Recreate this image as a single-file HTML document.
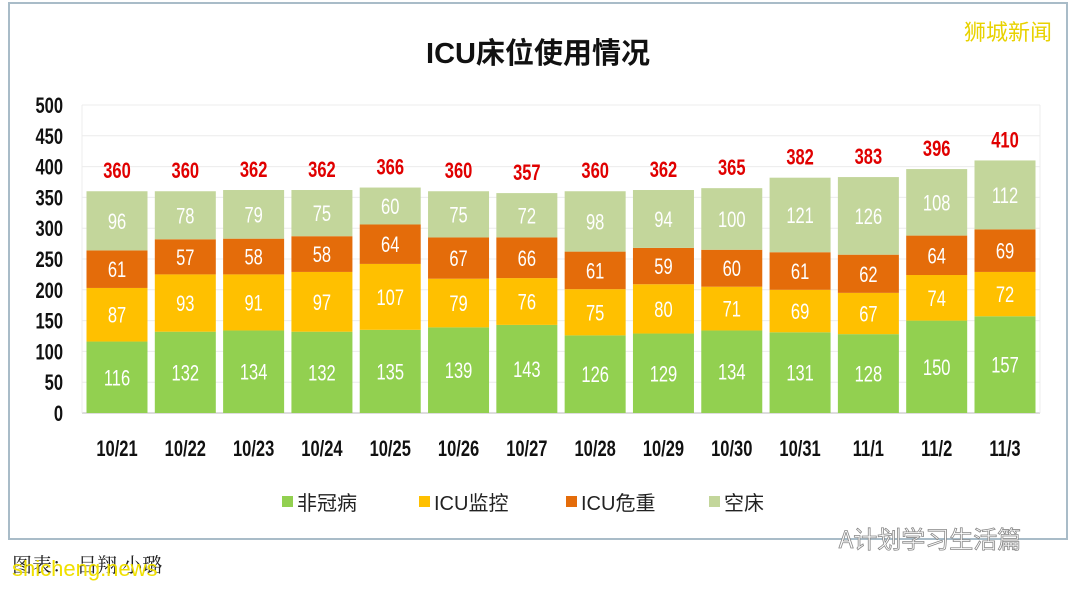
<!DOCTYPE html>
<html><head><meta charset="utf-8"><style>
body{margin:0;width:1076px;height:584px;background:#fff;overflow:hidden;font-family:"Liberation Sans","Noto Sans CJK SC",sans-serif}
svg text{font-family:"Liberation Sans","Noto Sans CJK SC",sans-serif}
</style></head><body>
<svg id="c" width="1076" height="584">
<rect x="9" y="3" width="1058" height="536" fill="#fff" stroke="#a9bcc8" stroke-width="2"/>
<text x="538" y="63" text-anchor="middle" font-size="29" font-weight="bold" fill="#111">ICU床位使用情况</text>
<text x="1008" y="40" text-anchor="middle" font-size="22" fill="#e8d200" style="font-family:'Noto Sans CJK SC',sans-serif">狮城新闻</text>
<g id="grid"></g><g id="bars"></g><g id="legend"></g>
<text x="930" y="548" text-anchor="middle" font-size="24" fill="#fff" stroke="#888" stroke-width="0.8" style="font-family:'Noto Sans CJK SC',sans-serif">A计划学习生活篇</text>
<text x="12" y="572" font-size="20" fill="#222" style="font-family:'Noto Serif CJK SC',serif">图表： 吕翔 小璐</text>
<text x="12" y="576" font-size="22" fill="#f0e000">shicheng.news</text>
</svg>
<script>
const categories=["10/21","10/22","10/23","10/24","10/25","10/26","10/27","10/28","10/29","10/30","10/31","11/1","11/2","11/3"];
const nonCovid=[116,132,134,132,135,139,143,126,129,134,131,128,150,157];
const icuMonitor=[87,93,91,97,107,79,76,75,80,71,69,67,74,72];
const icuCritical=[61,57,58,58,64,67,66,61,59,60,61,62,64,69];
const emptyBeds=[96,78,79,75,60,75,72,98,94,100,121,126,108,112];
const yTicks=[0,50,100,150,200,250,300,350,400,450,500];
const seriesNames=["非冠病","ICU监控","ICU危重","空床"];
const colors=["#92d050","#ffc000","#e46c0a","#c3d69b"];
const NS="http://www.w3.org/2000/svg";
const y0=413,y1=105,xL=82,xR=1040;
function y(v){return y0-(y0-y1)*v/500;}
function xc(i){return 117+i*(1005-117)/13;}
function mk(tag,attrs,parent,txt){const e=document.createElementNS(NS,tag);for(const k in attrs)e.setAttribute(k,attrs[k]);if(txt!==undefined)e.textContent=txt;parent.appendChild(e);return e;}
function nt(x,yy,anchor,size,weight,fill,parent,txt){
  return mk('text',{x:0,y:0,transform:`translate(${x},${yy}) scale(0.75,1)`,'text-anchor':anchor,'font-size':size,'font-weight':weight,fill:fill},parent,txt);
}
const grid=document.getElementById('grid'),bars=document.getElementById('bars'),leg=document.getElementById('legend');
yTicks.forEach(t=>{
  const l=mk('line',{x1:xL,x2:xR,y1:y(t),y2:y(t),stroke:t===0?'#bbb':'#ececec'},grid);
  
  
  const tx=nt(63,y(t)+8,'end',22,'bold','#111',grid,t);
  
  
});
mk('line',{x1:xL,x2:xL,y1:y1,y2:y0,stroke:'#ececec'},grid);
mk('line',{x1:xR,x2:xR,y1:y1,y2:y0,stroke:'#ececec'},grid);
const series=[nonCovid,icuMonitor,icuCritical,emptyBeds];
const bw=61;
categories.forEach((c,i)=>{
  let cum=0;
  series.forEach((s,k)=>{
    const v=s[i];
    const r=mk('rect',{x:xc(i)-bw/2,y:y(cum+v),width:bw,height:y(cum)-y(cum+v),fill:colors[k]},bars);
    
    
    const t=nt(xc(i),(y(cum)+y(cum+v))/2+8,'middle',22,'normal','#fff',bars,v);
    
    
    cum+=v;
  });
  const tot=nt(xc(i),y(cum)-13,'middle',22,'bold','#e00000',bars,cum);
  
  
  const xl=nt(xc(i),456,'middle',22,'bold','#111',bars,c);
  
  
});
const lx=[282,419,566,709];
seriesNames.forEach((n,k)=>{
  const r=mk('rect',{x:lx[k],y:496,width:11,height:11,fill:colors[k]},leg);
  
  
  const t=mk('text',{x:lx[k]+15,y:510,'font-size':20,fill:'#222'},leg,n);
  
  
});
</script>
</body></html>
